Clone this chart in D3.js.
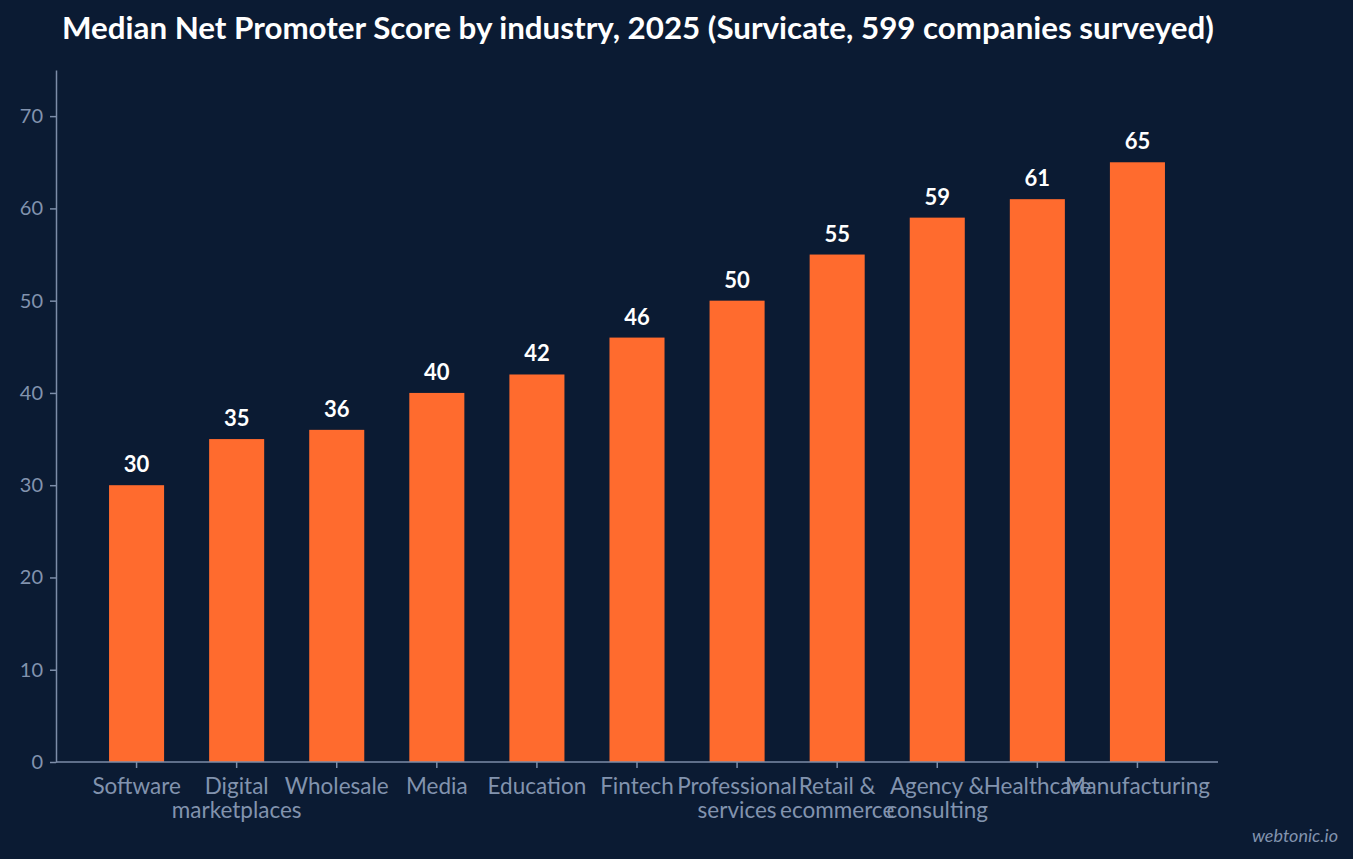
<!DOCTYPE html>
<html>
<head>
<meta charset="utf-8">
<script src="https://cdn.jsdelivr.net/npm/d3@7"></script>
<style>
  html, body { margin: 0; padding: 0; background: #0b1b33; }
  svg { display: block; font-family: Lato, "Open Sans", sans-serif; }
  .axis path, .axis line { stroke: #7d8da8; stroke-width: 1.5; }
  .axis text { fill: #8293ae; font-size: 20px; font-family: Lato, sans-serif; }
  .xaxis text { font-size: 22.5px; }
</style>
</head>
<body>
<svg width="1353" height="859"></svg>
<script>
const industries = ["Software", "Digital marketplaces", "Wholesale", "Media", "Education", "Fintech",
  "Professional services", "Retail & ecommerce", "Agency & consulting", "Healthcare", "Manufacturing"]
const medianNps = [30, 35, 36, 40, 42, 46, 50, 55, 59, 61, 65]
const yTicks = [0, 10, 20, 30, 40, 50, 60, 70]

const width = 1353, height = 859
const margin = {top: 70, right: 135, bottom: 97, left: 56}

var svg = d3.select("svg")
svg.append("rect").attr("width", width).attr("height", height).attr("fill", "#0b1b33")

const x = d3.scaleBand()
  .domain(industries)
  .range([margin.left, width - margin.right])
  .paddingInner(0.45)
  .paddingOuter(0.53)

const y = d3.scaleLinear()
  .domain([0, 75])
  .range([height - margin.bottom, margin.top])

// title
svg.append("text")
  .attr("x", 62).attr("y", 39)
  .attr("fill", "#ffffff")
  .attr("font-size", 31.3).attr("font-weight", 700)
  .text("Median Net Promoter Score by industry, 2025 (Survicate, 599 companies surveyed)")

// bars
svg.selectAll(".bar")
  .data(medianNps)
  .enter().append("rect")
  .attr("class", "bar")
  .attr("x", (d, i) => x(industries[i]))
  .attr("width", x.bandwidth())
  .attr("y", d => y(d))
  .attr("height", d => y(0) - y(d))
  .attr("fill", "#ff6b2e")

// value labels
svg.selectAll(".val")
  .data(medianNps)
  .enter().append("text")
  .attr("class", "val")
  .attr("x", (d, i) => x(industries[i]) + x.bandwidth() / 2)
  .attr("y", d => y(d) - 13)
  .attr("text-anchor", "middle")
  .attr("fill", "#ffffff")
  .attr("font-size", 22).attr("font-weight", 700)
  .text(d => d)

// y axis
svg.append("g")
  .attr("class", "axis")
  .attr("transform", `translate(${margin.left},0)`)
  .call(d3.axisLeft(y).tickValues(yTicks).tickSize(6).tickPadding(7).tickSizeOuter(0))

// x axis with wrapped labels
var xAxis = svg.append("g")
  .attr("class", "axis xaxis")
  .attr("transform", `translate(0,${height - margin.bottom})`)
  .call(d3.axisBottom(x).tickSize(6).tickPadding(10).tickSizeOuter(0))

xAxis.select(".domain").attr("d", `M${margin.left},0H${width - margin.right}`)

xAxis.selectAll(".tick text").each(function(d) {
  const t = d3.select(this)
  const words = d.split(" ")
  t.text(null)
  let lines = [d]
  if (words.length > 1) lines = [words.slice(0, -1).join(" "), words[words.length - 1]]
  lines.forEach((ln, k) => {
    t.append("tspan").attr("x", 0).attr("dy", k === 0 ? "0.71em" : "1.05em").text(ln)
  })
})

// watermark
svg.append("text")
  .attr("x", 1338).attr("y", 842)
  .attr("text-anchor", "end")
  .attr("fill", "#8293ae")
  .attr("font-size", 18).attr("font-style", "italic")
  .text("webtonic.io")
</script>
</body>
</html>
